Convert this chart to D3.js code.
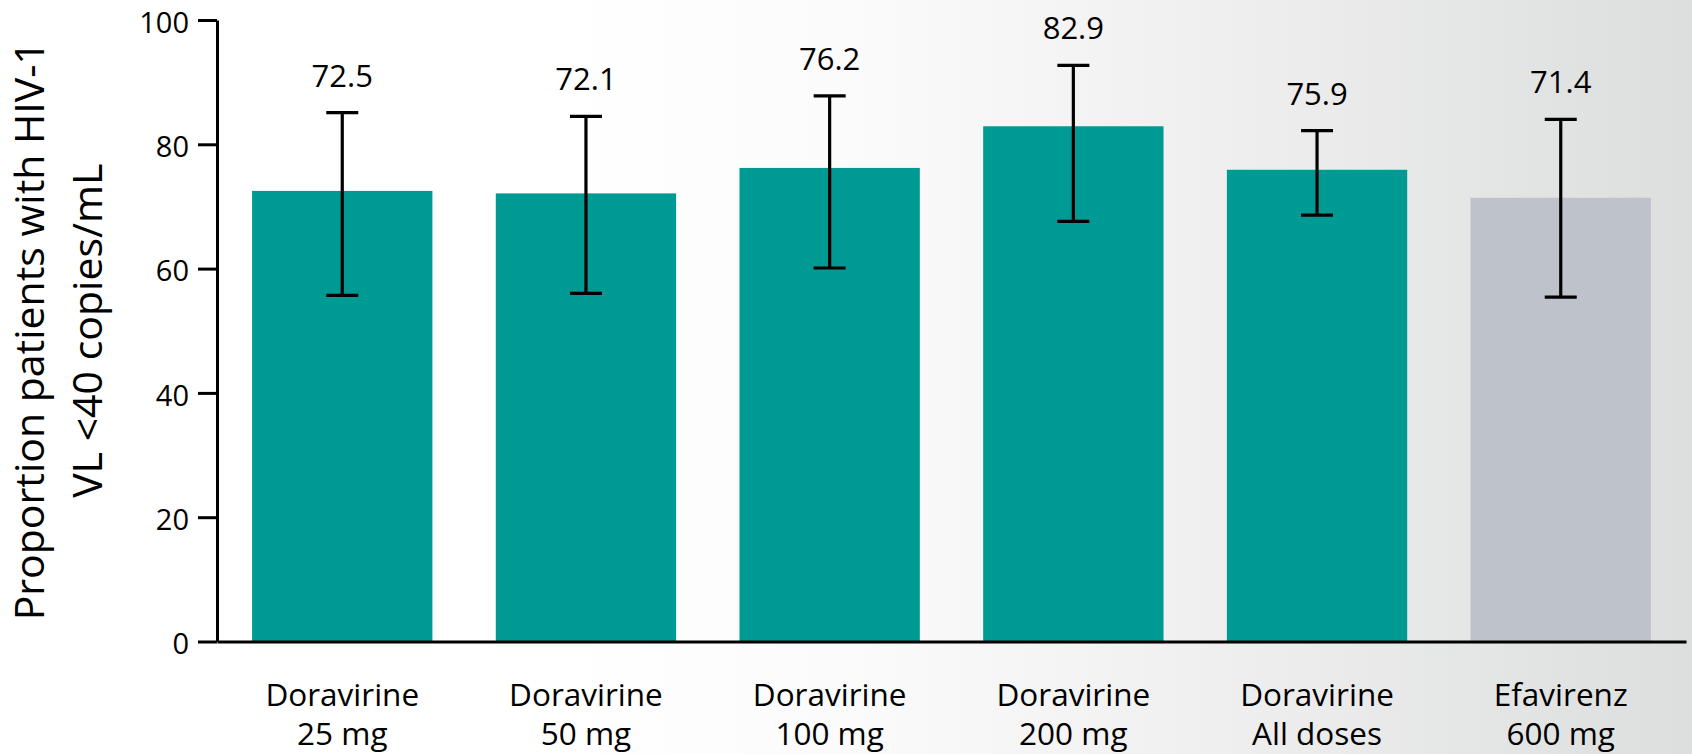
<!DOCTYPE html>
<html>
<head>
<meta charset="utf-8">
<script src="https://cdn.jsdelivr.net/npm/d3@7/dist/d3.min.js"></script>
<style>
  html, body { margin: 0; padding: 0; background: #fff; }
  svg { display: block; font-family: "Open Sans", "Noto Sans", sans-serif; }
</style>
</head>
<body>
<svg id="chart" width="1692" height="754"></svg>
<script>
// ---- data ----
const categoryLine1 = ["Doravirine", "Doravirine", "Doravirine", "Doravirine", "Doravirine", "Efavirenz"];
const categoryLine2 = ["25 mg", "50 mg", "100 mg", "200 mg", "All doses", "600 mg"];
const values = [72.5, 72.1, 76.2, 82.9, 75.9, 71.4];
const ciLow  = [55.7, 56.0, 60.1, 67.6, 68.6, 55.4];
const ciHigh = [85.1, 84.5, 87.8, 92.7, 82.2, 84.0];
const barColors = ["#009a94", "#009a94", "#009a94", "#009a94", "#009a94", "#bec2ca"];
const yTicks = [0, 20, 40, 60, 80, 100];
const yTitle = ["Proportion patients with HIV-1", "VL <40 copies/mL"];

const W = 1692, H = 754;
const svg = d3.select("#chart");

// background gradient
const defs = svg.append("defs");
const grad = defs.append("linearGradient").attr("id", "bg").attr("x1", "0").attr("x2", "1").attr("y1", "0").attr("y2", "0");
[[0, "#ffffff"], [0.33, "#ffffff"], [0.5, "#fbfbfb"], [0.65, "#f3f3f3"], [0.77, "#ececec"], [0.88, "#e4e5e5"], [1, "#dcdfde"]]
  .forEach(([o, c]) => grad.append("stop").attr("offset", o).attr("stop-color", c));
svg.append("rect").attr("width", W).attr("height", H).attr("fill", "url(#bg)");

const x0 = 217, x1 = 1686, yTop = 20, yBottom = 641.5;

const idx = d3.range(values.length);
const x = d3.scaleBand().domain(idx).range([x0, x1]).paddingInner(0.26).paddingOuter(0.144);
const y = d3.scaleLinear().domain([0, 100]).range([yBottom, yTop]);

// bars
svg.append("g").selectAll("rect").data(idx).join("rect")
  .attr("x", i => x(i))
  .attr("y", i => y(values[i]))
  .attr("width", x.bandwidth())
  .attr("height", i => y(0) - y(values[i]))
  .attr("fill", i => barColors[i]);

// error bars
const capHalf = 16;
const eb = svg.append("g").attr("stroke", "#000").attr("stroke-width", 3.2);
idx.forEach(i => {
  const cx = x(i) + x.bandwidth() / 2;
  eb.append("line").attr("x1", cx).attr("x2", cx).attr("y1", y(ciLow[i])).attr("y2", y(ciHigh[i]));
  eb.append("line").attr("x1", cx - capHalf).attr("x2", cx + capHalf).attr("y1", y(ciHigh[i])).attr("y2", y(ciHigh[i]));
  eb.append("line").attr("x1", cx - capHalf).attr("x2", cx + capHalf).attr("y1", y(ciLow[i])).attr("y2", y(ciLow[i]));
});

// value labels
svg.append("g").selectAll("text").data(idx).join("text")
  .attr("x", i => x(i) + x.bandwidth() / 2)
  .attr("y", i => y(ciHigh[i]) - 26)
  .attr("text-anchor", "middle")
  .attr("font-size", 31)
  .attr("fill", "#000")
  .text(i => values[i].toFixed(1));

// y axis
const yAxis = svg.append("g").attr("transform", `translate(${x0},0)`)
  .call(d3.axisLeft(y).tickValues(yTicks).tickSize(19).tickSizeOuter(0).tickPadding(9));
yAxis.selectAll("path, line").attr("stroke", "#000").attr("stroke-width", 3);
yAxis.selectAll("text").attr("font-size", 29).attr("dy", "0.42em").attr("fill", "#000").attr("font-family", "Open Sans, sans-serif");

// x axis
const xAxis = svg.append("g").attr("transform", `translate(0,${yBottom})`)
  .call(d3.axisBottom(x).tickSize(0).tickSizeOuter(0).tickFormat(""));
xAxis.select("path").attr("stroke", "#000").attr("stroke-width", 3);
xAxis.selectAll(".tick text").remove();

// category labels
const cat = svg.append("g").selectAll("text").data(idx).join("text")
  .attr("text-anchor", "middle")
  .attr("font-size", 31.5)
  .attr("fill", "#000");
cat.append("tspan").attr("x", i => x(i) + x.bandwidth() / 2).attr("y", 706).text(i => categoryLine1[i]);
cat.append("tspan").attr("x", i => x(i) + x.bandwidth() / 2).attr("y", 745).text(i => categoryLine2[i]);

// y title
const yt = svg.append("text")
  .attr("transform", "rotate(-90)")
  .attr("text-anchor", "middle")
  .attr("font-size", 41)
  .attr("fill", "#000");
yt.append("tspan").attr("x", -(yTop + yBottom) / 2).attr("y", 44).text(yTitle[0]);
yt.append("tspan").attr("x", -(yTop + yBottom) / 2).attr("y", 102).text(yTitle[1]);
</script>
</body>
</html>
